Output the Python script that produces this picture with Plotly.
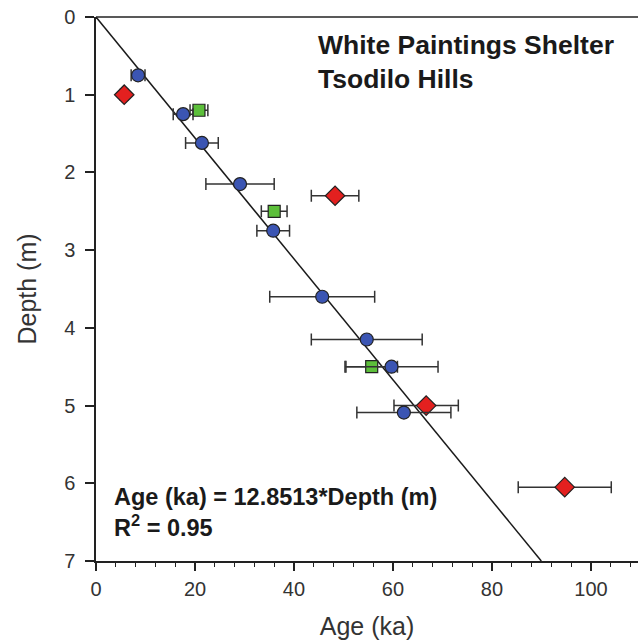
import plotly.graph_objects as go

# Age (ka) vs depth (m) with 1-sigma age errors, three dating series
blue_age = [8.5, 17.6, 21.4, 29.1, 35.8, 45.7, 54.7, 59.7, 62.2]
blue_depth = [0.75, 1.25, 1.62, 2.15, 2.75, 3.6, 4.15, 4.5, 5.09]
blue_err = [1.4, 2.0, 3.3, 6.9, 3.3, 10.6, 11.2, 9.4, 9.5]

green_age = [20.8, 36.0, 55.7]
green_depth = [1.2, 2.5, 4.5]
green_err = [1.8, 2.6, 5.2]

red_age = [5.7, 48.3, 66.7, 94.7]
red_depth = [1.0, 2.3, 5.0, 6.05]
red_err = [0.8, 4.8, 6.5, 9.4]

SLOPE = 12.8513  # Age (ka) = SLOPE * Depth (m)
R2 = 0.95
fit_depth = [0.0, 7.0]
fit_age = [SLOPE * d for d in fit_depth]

x_ticks = [0, 20, 40, 60, 80, 100]
y_ticks = [0, 1, 2, 3, 4, 5, 6, 7]

FONT = "Liberation Sans, Arial, sans-serif"
ERR_COLOR = "#333333"
AXIS_COLOR = "#222222"

fig = go.Figure()

fig.add_trace(go.Scatter(
    x=fit_age, y=fit_depth, mode="lines",
    line=dict(color="#1a1a1a", width=1.5), hoverinfo="skip", showlegend=False,
))


def series(ages, depths, errs, symbol, color, size):
    return go.Scatter(
        x=ages, y=depths, mode="markers", showlegend=False,
        error_x=dict(type="data", array=errs, visible=True,
                     color=ERR_COLOR, thickness=1.5, width=6),
        marker=dict(symbol=symbol, color=color, size=size,
                    line=dict(color="#222222", width=1.2)),
    )


fig.add_trace(series(green_age, green_depth, green_err, "square", "#5cbf3a", 12))
fig.add_trace(series(red_age, red_depth, red_err, "diamond", "#e3201f", 15))
fig.add_trace(series(blue_age, blue_depth, blue_err, "circle", "#3b55b3", 13))

fig.update_layout(
    width=638, height=644,
    margin=dict(l=96, r=0, t=17, b=83),
    paper_bgcolor="white", plot_bgcolor="white",
    font=dict(family=FONT, color="#222222", size=20),
    xaxis=dict(
        range=[0, 109.5], tickvals=x_ticks, showgrid=False, zeroline=False,
        showline=True, linecolor=AXIS_COLOR, linewidth=1.5,
        ticks="outside", ticklen=8, tickwidth=1.5, tickcolor=AXIS_COLOR,
        ticklabelstandoff=1,
        minor=dict(dtick=4, tick0=0, ticks="outside", ticklen=4,
                   tickwidth=1.2, tickcolor=AXIS_COLOR),
        tickfont=dict(size=20, color="#333333"),
        title=dict(text="Age (ka)", font=dict(size=25, color="#333333"), standoff=19),
    ),
    yaxis=dict(
        range=[7, 0], tickvals=y_ticks, showgrid=False, zeroline=False,
        showline=True, linecolor=AXIS_COLOR, linewidth=1.5,
        ticks="outside", ticklen=9, tickwidth=1.5, tickcolor=AXIS_COLOR,
        ticklabelstandoff=6,
        tickfont=dict(size=20, color="#333333"),
        title=dict(text="Depth (m)", font=dict(size=25, color="#333333"), standoff=20),
    ),
    shapes=[dict(type="line", xref="paper", yref="paper", x0=0, x1=1, y0=1, y1=1,
                 line=dict(color=AXIS_COLOR, width=1.5))],
    annotations=[
        dict(text="<b>White Paintings Shelter<br>Tsodilo Hills</b>",
             xref="paper", yref="paper", x=0.405, y=0.98, xanchor="left", yanchor="top",
             align="left", showarrow=False, font=dict(size=26.5, color="#1a1a1a")),
        dict(text=f"<b>Age (ka) = {SLOPE}*Depth (m)<br>R<sup>2</sup> = {R2}</b>",
             xref="paper", yref="paper", x=0.029, y=0.146, xanchor="left", yanchor="top",
             align="left", showarrow=False, font=dict(size=23.5, color="#1a1a1a")),
    ],
)

fig.write_html("out.html")
